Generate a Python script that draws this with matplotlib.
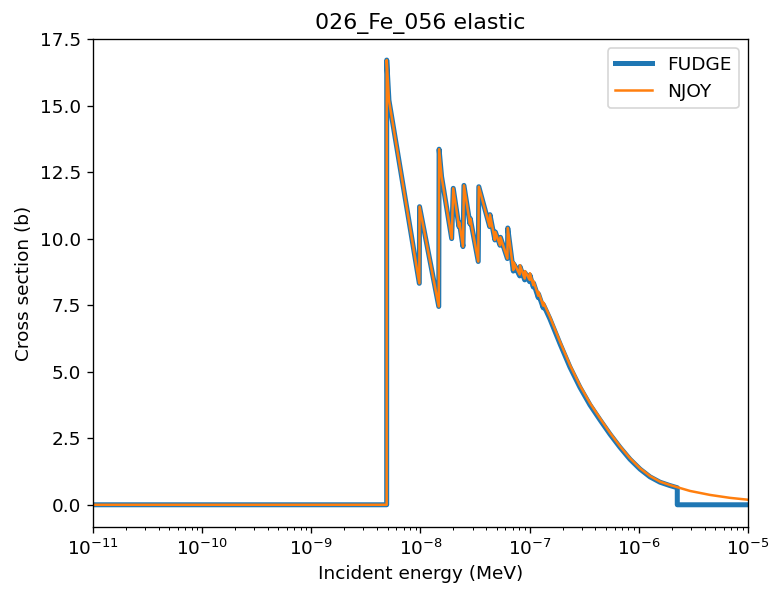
import matplotlib
matplotlib.use("Agg")
import matplotlib.pyplot as plt

# Incident energies (MeV) and elastic cross sections (b)
energy = [1.0e-11, 4.90e-9, 4.905e-9, 5.14e-9, 9.75e-9, 9.80e-9, 1.47e-8, 1.48e-8,
          1.56e-8, 1.93e-8, 1.995e-8, 2.25e-8, 2.27e-8, 2.45e-8, 2.50e-8, 2.84e-8,
          2.86e-8, 3.38e-8, 3.42e-8, 4.30e-8, 4.33e-8, 4.80e-8, 4.85e-8, 5.35e-8,
          5.40e-8, 6.25e-8, 6.30e-8, 7.08e-8, 7.15e-8, 8.10e-8, 8.15e-8, 9.00e-8,
          9.05e-8, 1.00e-7, 1.005e-7, 1.08e-7, 1.085e-7, 1.20e-7, 1.205e-7, 1.33e-7,
          1.335e-7, 1.53e-7, 1.90e-7, 2.34e-7, 2.89e-7, 3.57e-7, 4.41e-7, 5.45e-7,
          6.72e-7, 8.30e-7, 1.026e-6, 1.265e-6, 1.56e-6, 1.90e-6, 2.25e-6]

njoy_xs = [0.0, 0.0, 16.71, 15.2, 8.32, 11.2, 7.45, 13.36,
           12.33, 10.0, 11.89, 10.45, 10.6, 9.7, 12.0, 10.55,
           10.75, 9.14, 11.95, 10.45, 10.90, 9.95, 10.25, 9.75,
           10.05, 9.25, 10.40, 8.82, 9.10, 8.65, 9.00, 8.50,
           8.78, 8.45, 8.70, 8.25, 8.40, 7.85, 8.00, 7.48,
           7.60, 7.07, 6.12, 5.25, 4.48, 3.82, 3.25, 2.70,
           2.20, 1.75, 1.37, 1.08, 0.87, 0.75, 0.66]

fudge_xs = [0.0, 0.0, 16.71, 15.2, 8.32, 11.2, 7.45, 13.36,
            12.33, 10.0, 11.89, 10.45, 10.6, 9.7, 12.0, 10.55,
            10.75, 9.14, 11.95, 10.45, 10.90, 9.95, 10.25, 9.75,
            10.05, 9.25, 10.40, 8.78, 9.05, 8.60, 8.95, 8.45,
            8.72, 8.38, 8.63, 8.18, 8.33, 7.78, 7.92, 7.40,
            7.52, 6.99, 6.04, 5.17, 4.41, 3.75, 3.19, 2.65,
            2.16, 1.71, 1.34, 1.05, 0.85, 0.73, 0.64]

# FUDGE stops at its upper energy and is zero beyond it
fudge_energy = energy + [2.2501e-6, 1.0e-5]
fudge_xs = fudge_xs + [0.0, 0.0]

# NJOY continues smoothly to the upper energy limit
njoy_energy = energy + [2.94e-6, 4.49e-6, 6.84e-6, 1.0e-5]
njoy_xs = njoy_xs + [0.52, 0.37, 0.26, 0.19]

plt.rcParams["font.size"] = 11.1

fig = plt.figure(figsize=(769 / 120, 591 / 120), dpi=120)
ax = fig.add_axes([93 / 769, 1 - 527 / 591, (748 - 93) / 769, (527 - 39) / 591])

ax.plot(fudge_energy, fudge_xs, color="#1f77b4", lw=3, label="FUDGE")
ax.plot(njoy_energy, njoy_xs, color="#ff7f0e", lw=1.5, label="NJOY")

ax.set_xscale("log")
ax.set_xlim(1e-11, 1e-5)
ax.set_ylim(-0.835, 17.5)
ax.set_yticks([0.0, 2.5, 5.0, 7.5, 10.0, 12.5, 15.0, 17.5])
ax.set_xlabel("Incident energy (MeV)")
ax.set_ylabel("Cross section (b)")
ax.set_title("026_Fe_056 elastic", fontsize=13.3)
ax.legend(loc="upper right")

fig.savefig("out.png", dpi=120)
